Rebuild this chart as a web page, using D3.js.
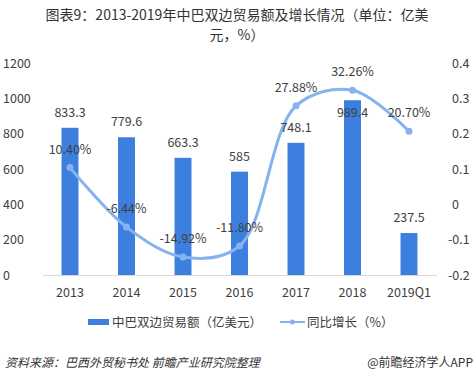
<!DOCTYPE html>
<html><head><meta charset="utf-8">
<script src="https://cdn.jsdelivr.net/npm/d3@7"></script>
<style>body{margin:0;background:#fff;}svg{display:block;font-family:"Microsoft YaHei","Noto Sans CJK SC",sans-serif;}</style>
</head><body>
<svg id="c" width="474" height="372"></svg>
<script>
const categories = ["2013","2014","2015","2016","2017","2018","2019Q1"];
const tradeValues = [833.3, 779.6, 663.3, 585, 748.1, 989.4, 237.5];
const growthValues = [0.1040, -0.0644, -0.1492, -0.1180, 0.2788, 0.3226, 0.2070];
const growthLabels = ["10.40%","-6.44%","-14.92%","-11.80%","27.88%","32.26%","20.70%"];
const leftTicks = [0,200,400,600,800,1000,1200];
const rightTicks = [-0.2,-0.1,0,0.1,0.2,0.3,0.4];
const rightTickLabels = ["-0.2","-0.1","0","0.1","0.2","0.3","0.4"];
const legendLabels = ["中巴双边贸易额（亿美元）","同比增长（%）"];
const titleLines = ["图表9：2013-2019年中巴双边贸易额及增长情况（单位：亿美","元，%）"];
const sourceText = "资料来源：巴西外贸秘书处  前瞻产业研究院整理";
const creditText = "@前瞻经济学人APP";

const svg = d3.select("#c");
const barColor = "#3d7fdf", lineColor = "#86b3f0", textColor = "#404040";

const x = d3.scaleBand().domain(categories).range([41.75, 437.25]).paddingInner(0.7).paddingOuter(0.35);
const yL = d3.scaleLinear().domain([0,1200]).range([275,63]);
const yR = d3.scaleLinear().domain([-0.2,0.4]).range([275,63]);

// title
svg.append("g").selectAll("text").data(titleLines).join("text")
  .attr("x",237).attr("y",(d,i)=>20+i*20).attr("text-anchor","middle")
  .attr("font-size",14).attr("fill","#333").text(d=>d);

// left axis labels
svg.append("g").selectAll("text").data(leftTicks).join("text")
  .attr("x",3).attr("y",d=>yL(d)+4.5).attr("font-size",12.5).attr("fill",textColor).text(d=>d);
// right axis labels
svg.append("g").selectAll("text").data(rightTicks).join("text")
  .attr("x",d=>d<0?448:452).attr("y",d=>yR(d)+4.5).attr("font-size",12.5).attr("fill",textColor)
  .text((d,i)=>rightTickLabels[i]);

// bars
svg.append("g").selectAll("rect").data(tradeValues).join("rect")
  .attr("x",(d,i)=>x(categories[i])).attr("width",x.bandwidth())
  .attr("y",d=>yL(d)).attr("height",d=>yL(0)-yL(d)).attr("fill",barColor);

// x axis line
svg.append("line").attr("x1",43).attr("x2",437).attr("y1",275.5).attr("y2",275.5)
  .attr("stroke","#d9d9d9").attr("stroke-width",1);

// x labels
svg.append("g").selectAll("text").data(categories).join("text")
  .attr("x",d=>x(d)+x.bandwidth()/2).attr("y",297).attr("text-anchor","middle")
  .attr("font-size",12.5).attr("fill",textColor).text(d=>d);

// line
const cx = i=>x(categories[i])+x.bandwidth()/2;
const line = d3.line().x((d,i)=>cx(i)).y(d=>yR(d)).curve(d3.curveCatmullRom.alpha(0.5));
svg.append("path").datum(growthValues).attr("d",line).attr("fill","none")
  .attr("stroke",lineColor).attr("stroke-width",3);
svg.append("g").selectAll("circle").data(growthValues).join("circle")
  .attr("cx",(d,i)=>cx(i)).attr("cy",d=>yR(d)).attr("r",3.5).attr("fill",lineColor);

// growth labels
const gLabelY = i=>yR(growthValues[i])-14;
svg.append("g").selectAll("text").data(growthValues).join("text")
  .attr("x",(d,i)=>cx(i)).attr("y",(d,i)=>gLabelY(i))
  .attr("text-anchor","middle").attr("font-size",12.5).attr("fill",textColor).text((d,i)=>growthLabels[i]);

// bar value labels (moved inside the bar when it would collide with the growth label)
svg.append("g").selectAll("text").data(tradeValues).join("text")
  .attr("x",(d,i)=>cx(i))
  .attr("y",(d,i)=>{const above=yL(d)-11; return Math.abs(above-gLabelY(i))<15 ? yL(d)+17 : above;})
  .attr("text-anchor","middle").attr("font-size",12.5).attr("fill",textColor).text(d=>d);

// legend
const lg = svg.append("g");
lg.append("rect").attr("x",88).attr("y",319).attr("width",21).attr("height",6).attr("fill",barColor);
lg.append("text").attr("x",112).attr("y",327).attr("font-size",12.5).attr("fill",textColor).text(legendLabels[0]);
lg.append("line").attr("x1",280).attr("x2",305).attr("y1",322).attr("y2",322).attr("stroke",lineColor).attr("stroke-width",2);
lg.append("circle").attr("cx",292.5).attr("cy",322).attr("r",2.5).attr("fill",lineColor);
lg.append("text").attr("x",307).attr("y",327).attr("font-size",12.5).attr("fill",textColor).text(legendLabels[1]);

// source
svg.append("text").attr("x",5).attr("y",367).attr("font-size",12).attr("font-style","italic")
  .attr("fill","#333").text(sourceText);
svg.append("text").attr("x",473).attr("y",367).attr("text-anchor","end").attr("font-size",12)
  .attr("fill","#333").text(creditText);
</script>
</body></html>
